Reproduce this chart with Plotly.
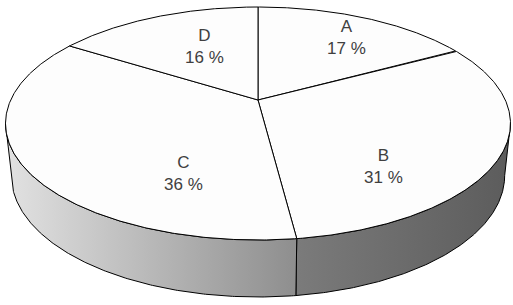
import numpy as np
import plotly.graph_objects as go

# ---- data ----
categories = ["A", "B", "C", "D"]
values = [17, 31, 36, 16]
label_texts = ["A<br>17 %", "B<br>31 %", "C<br>36 %", "D<br>16 %"]

# ---- styling / geometry (not data) ----
label_pos = [(346, 37), (383, 166), (183, 173), (204, 46)]
side_scales = {
    "B": [[0, "#7b7b7b"], [1, "#5c5c5c"]],
    "C": [[0, "#e2e2e2"], [1, "#8e8e8e"]],
    "A": [[0, "#888888"], [1, "#666666"]],
    "D": [[0, "#dddddd"], [1, "#bbbbbb"]],
}
TOP_FILL = "#fdfdfd"
X0, Y0 = 258.0, 100.0       # projected centre of the pie
A_R, B_R, K = 247.3, 111.76, 0.2017   # perspective ellipse parameters
S_BOT, D_A, D_B = 0.977, 50.75, 6.25  # bottom rim parameters


def top_pt(theta_deg, r=1.0):
    t = np.radians(theta_deg)
    u, v = r * np.sin(t), r * np.cos(t)
    w = 1 + K * v
    return X0 + A_R * u / w, Y0 - B_R * v / w


def bot_pt(theta_deg):
    x, y = top_pt(theta_deg)
    v = np.cos(np.radians(theta_deg))
    return X0 + S_BOT * (x - X0), y + D_A - D_B * v


total = sum(values)
bounds = np.concatenate([[0], np.cumsum(values) / total * 360.0])

# silhouette angles (leftmost / rightmost of the rim)
th_r = np.degrees(np.arccos(-K))
th_l = 360 - th_r

fig = go.Figure()

# sides first
for i, cat in enumerate(categories):
    a0, a1 = bounds[i], bounds[i + 1]
    s0, s1 = max(a0, th_r), min(a1, th_l)
    if s1 <= s0:
        continue
    th = np.linspace(s0, s1, 200)
    tx, ty = top_pt(th)
    bx, by = bot_pt(th[::-1])
    xs = np.concatenate([tx, bx, tx[:1]])
    ys = np.concatenate([ty, by, ty[:1]])
    fig.add_trace(go.Scatter(
        x=xs, y=ys, mode="lines", fill="toself",
        fillgradient=dict(type="horizontal", colorscale=side_scales[cat]),
        line=dict(color="#000000", width=1), hoverinfo="skip", showlegend=False))

# top slices
for i, cat in enumerate(categories):
    a0, a1 = bounds[i], bounds[i + 1]
    th = np.linspace(a0, a1, 300)
    ax, ay = top_pt(th)
    xs = np.concatenate([[X0], ax, [X0]])
    ys = np.concatenate([[Y0], ay, [Y0]])
    fig.add_trace(go.Scatter(
        x=xs, y=ys, mode="lines", fill="toself", fillcolor=TOP_FILL,
        line=dict(color="#000000", width=1), hoverinfo="skip", showlegend=False))

for txt, (lx, ly) in zip(label_texts, label_pos):
    fig.add_annotation(x=lx, y=ly, text=txt, showarrow=False,
                       font=dict(family="Liberation Sans, Arial", size=17, color="#404040"),
                       xanchor="center", yanchor="middle", align="center")

fig.update_xaxes(range=[0, 513], visible=False, fixedrange=True)
fig.update_yaxes(range=[305, 0], visible=False, fixedrange=True)
fig.update_layout(width=513, height=305, margin=dict(l=0, r=0, t=0, b=0),
                  paper_bgcolor="white", plot_bgcolor="white", showlegend=False)

fig.write_html("out.html")
